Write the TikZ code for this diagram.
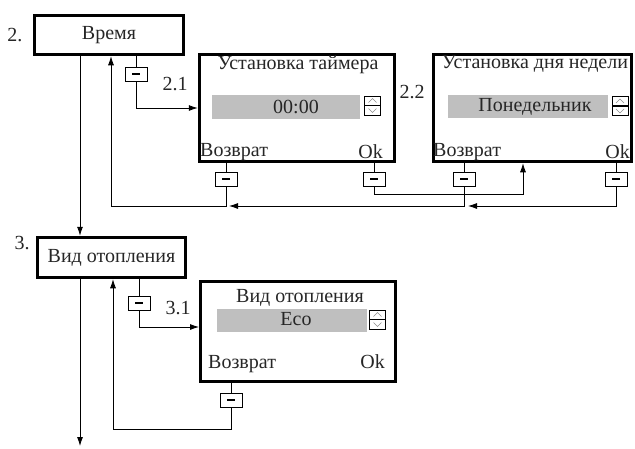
\documentclass[tikz,border=0pt]{standalone}
\usepackage{fontspec}
\setmainfont{Liberation Serif}
\usetikzlibrary{arrows.meta}
\tikzset{
  screen/.style={draw, line width=3.5pt, inner sep=0pt},
  btn/.style={draw, line width=0.8pt, minimum width=22pt, minimum height=14pt, inner sep=0pt},
  field/.style={fill=black!25, inner sep=0pt},
  conn/.style={line width=0.8pt},
  arr/.style={conn, -{Latex[length=9pt,width=6pt]}},
  txt/.style={inner sep=0pt, font=\fontsize{20}{22}\selectfont, text=black!85},
  spinner/.pic={
    \draw[line width=0.7pt] (-8,-9.5) rectangle (8,9.5);
    \draw[line width=1.6pt] (-8,0) -- (8,0);
    \draw[black!45, line width=0.4pt] (-4,-3) -- (0,-7) -- (4,-3);
    \draw[black!45, line width=0.4pt] (-4,3) -- (0,7) -- (4,3);
  }
}
\newcommand{\minus}{\rule{8pt}{1.2pt}}
\begin{document}
\begin{tikzpicture}[x=1pt, y=-1pt]
  \useasboundingbox (0,0) rectangle (635,448);

  % menu 2
  \node[txt] (n2) at (15,35) {2.};
  \node[screen, txt, minimum width=149pt, minimum height=39pt] (vr) at (109,35) {Время};
  \node[txt] (n21) at (175,84) {2.1};
  \node[txt] (n22) at (412,92) {2.2};

  % screen 2.1
  \node[screen, minimum width=195pt, minimum height=107pt] (t21) at (297,108) {};
  \node[txt] (t21title) at (298,65) {Установка таймера};
  \node[field, minimum width=148pt, minimum height=24pt] (t21field) at (286,107) {};
  \node[txt] (t21val) at (296,107) {00:00};
  \pic at (372.5,105.5) {spinner};
  \node[txt, anchor=west] (t21back) at (200,152) {Возврат};
  \node[txt, anchor=east] (t21ok) at (383,152) {Ok};

  % screen 2.2
  \node[screen, minimum width=198pt, minimum height=107pt] (t22) at (532.5,108) {};
  \node[txt] (t22title) at (535,64) {Установка дня недели};
  \node[field, minimum width=160pt, minimum height=23pt] (t22field) at (528,106.5) {};
  \node[txt] (t22val) at (535,107) {Понедельник};
  \pic at (620,106) {spinner};
  \node[txt, anchor=west] (t22back) at (433,152) {Возврат};
  \node[txt, anchor=east] (t22ok) at (630,152) {Ok};

  % menu 3
  \node[txt] (n3) at (22,243) {3.};
  \node[screen, txt, minimum width=148pt, minimum height=40pt] (vo) at (111.5,257.5) {Вид отопления};
  \node[txt] (n31) at (178,308) {3.1};

  % screen 3.1
  \node[screen, minimum width=195pt, minimum height=100pt] (t31) at (298,331.5) {};
  \node[txt] (t31title) at (300,298) {Вид отопления};
  \node[field, minimum width=150pt, minimum height=23pt] (t31field) at (292,320.5) {};
  \node[txt] (t31val) at (296,319) {Eco};
  \pic at (377.5,319.5) {spinner};
  \node[txt, anchor=west] (t31back) at (208,364) {Возврат};
  \node[txt, anchor=east] (t31ok) at (385,362) {Ok};

  % buttons
  \node[btn] (b2) at (136,74) {\minus};
  \node[btn] (b21r) at (226,179) {\minus};
  \node[btn] (b21ok) at (374,179) {\minus};
  \node[btn] (b22r) at (464,179) {\minus};
  \node[btn] (b22ok) at (616,179) {\minus};
  \node[btn] (b3) at (139,303) {\minus};
  \node[btn] (b31) at (231,400) {\minus};

  \coordinate (m1) at (80,0);
  \coordinate (mend) at (80,446);
  \coordinate (r2) at (111,206);
  \coordinate (j21) at (229,206);
  \coordinate (j22) at (468,206);
  \coordinate (k21) at (523,194);
  \coordinate (k3) at (199,327);
  \coordinate (r3) at (113,429);

  % connectors
  \draw[arr] (vr.south -| m1) -- (vo.north -| m1);
  \draw[arr] (vo.south -| mend) -- (mend);
  \draw[conn] (vr.south -| b2) -- (b2.north);
  \draw[arr] (b2.south) |- (t21.west);
  \draw[conn] (t21.south -| b21r) -- (b21r.north);
  \draw[arr] (b21r.south) |- (r2) -- (r2 |- vr.south);
  \draw[conn] (t21.south -| b21ok) -- (b21ok.north);
  \draw[arr] (b21ok.south) |- (k21) -- (k21 |- t22.south);
  \draw[conn] (t22.south -| b22r) -- (b22r.north);
  \draw[arr] (b22r.south) |- (j21);
  \draw[conn] (t22.south -| b22ok) -- (b22ok.north);
  \draw[arr] (b22ok.south) |- (j22);
  \draw[conn] (vo.south -| b3) -- (b3.north);
  \draw[arr] (b3.south) |- (k3);
  \draw[conn] (t31.south -| b31) -- (b31.north);
  \draw[arr] (b31.south) |- (r3) -- (r3 |- vo.south);
\end{tikzpicture}
\end{document}
